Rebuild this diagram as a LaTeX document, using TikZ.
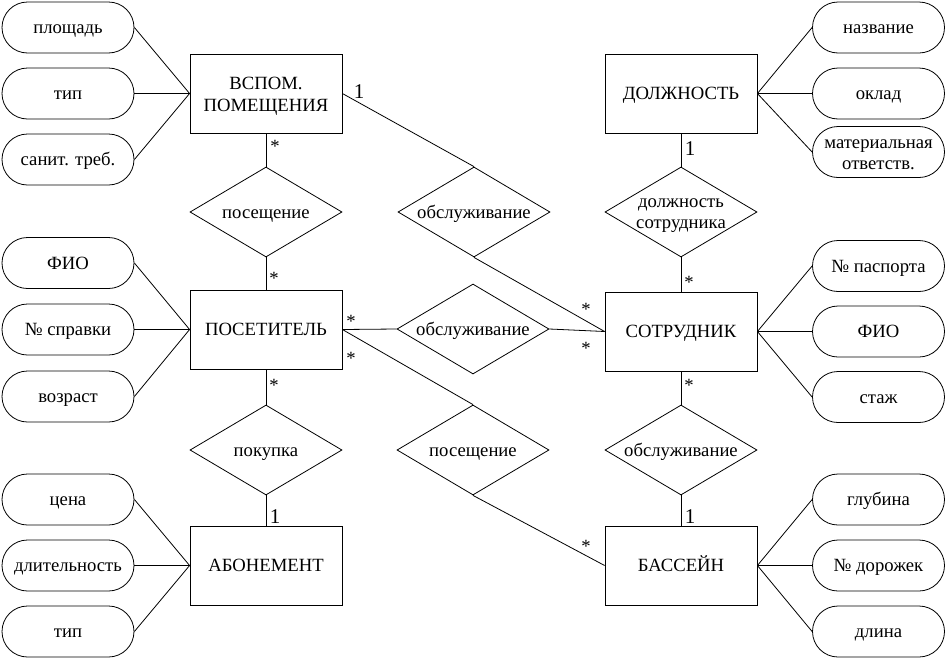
\documentclass[tikz,border=0pt]{standalone}
\usepackage{fontspec}
\setmainfont{Liberation Serif}
\usetikzlibrary{shapes.geometric}
\begin{document}
\begin{tikzpicture}[x=1pt,y=-1pt,
 every node/.style={font=\fontsize{18.67}{21.5}\selectfont, inner sep=0pt},
 one line/.style={text height=16pt, text depth=4pt},
 two lines/.style={align=center, text height=40pt, text depth=4pt},
 ent/.style={draw, line width=0.8pt, rectangle, minimum width=152pt, minimum height=79pt, one line},
 rel/.style={draw, line width=0.8pt, diamond, minimum width=152pt, minimum height=90pt},
 reltext/.style={one line},
 attr/.style={draw, line width=0.8pt, rectangle, rounded corners=25.5pt, minimum width=132pt, minimum height=51pt, one line},
 link/.style={line width=0.8pt},
 many/.style={font=\fontsize{18.67}{21}\selectfont},
 one/.style={font=\fontsize{21}{24}\selectfont}]
\useasboundingbox (0,0) rectangle (948,659);

% entities
\node[ent, two lines] (vsp) at (266,93.5) {ВСПОМ.\\[1pt]ПОМЕЩЕНИЯ};
\node[ent] (dol) at (681,93.5) {ДОЛЖНОСТЬ};
\node[ent] (pos) at (266,329.5) {ПОСЕТИТЕЛЬ};
\node[ent] (sot) at (681,331.5) {СОТРУДНИК};
\node[ent] (abo) at (266,565.5) {АБОНЕМЕНТ};
\node[ent] (bas) at (681,565.5) {БАССЕЙН};

% relationships
\node[rel] (r1) at (266,212) {};
\node[reltext] (r1t) at (r1) {посещение};
\node[rel] (r2) at (474,212) {};
\node[reltext] (r2t) at (r2) {обслуживание};
\node[rel] (r3) at (681,212) {};
\node[two lines, text height=36.6pt] (r3t) at (r3) {должность\\[-0.5pt]сотрудника};
\node[rel] (r4) at (473,329) {};
\node[reltext] (r4t) at (r4) {обслуживание};
\node[rel] (r5) at (266,450) {};
\node[reltext] (r5t) at (r5) {покупка};
\node[rel] (r6) at (473,450) {};
\node[reltext] (r6t) at (r6) {посещение};
\node[rel] (r7) at (681,450) {};
\node[reltext] (r7t) at (r7) {обслуживание};

% attributes left
\node[attr] (a1) at (68,27.5) {площадь};
\node[attr] (a2) at (68,93.5) {тип};
\node[attr] (a3) at (68,159.5) {санит. треб.};
\node[attr] (a4) at (68,263) {ФИО};
\node[attr] (a5) at (68,329.5) {№ справки};
\node[attr] (a6) at (68,396.5) {возраст};
\node[attr] (a7) at (68,499.5) {цена};
\node[attr] (a8) at (68,565.5) {длительность};
\node[attr] (a9) at (68,631.5) {тип};
% attributes right
\node[attr] (b1) at (878.5,27.5) {название};
\node[attr] (b2) at (878.5,93.5) {оклад};
\node[attr, two lines, text height=38.6pt] (b3) at (878.5,152) {материальная\\[-0.5pt]ответств.};
\node[attr] (b4) at (878.5,266) {№ паспорта};
\node[attr] (b5) at (878.5,331.5) {ФИО};
\node[attr] (b6) at (878.5,397) {стаж};
\node[attr] (b7) at (878.5,499.5) {глубина};
\node[attr] (b8) at (878.5,565.5) {№ дорожек};
\node[attr] (b9) at (878.5,631.5) {длина};

% attribute links
\foreach \a in {a1,a2,a3} \draw[link] (\a.east) -- (vsp.west);
\foreach \a in {a4,a5,a6} \draw[link] (\a.east) -- (pos.west);
\foreach \a in {a7,a8,a9} \draw[link] (\a.east) -- (abo.west);
\foreach \a in {b1,b2,b3} \draw[link] (\a.west) -- (dol.east);
\foreach \a in {b4,b5,b6} \draw[link] (\a.west) -- (sot.east);
\foreach \a in {b7,b8,b9} \draw[link] (\a.west) -- (bas.east);

% relationship links
\draw[link] (vsp.south) -- (r1.north);
\draw[link] (r1.south) -- (pos.north);
\draw[link] (vsp.east) -- (r2.north);
\draw[link] (r2.south) -- (sot.west);
\draw[link] (dol.south) -- (r3.north);
\draw[link] (r3.south) -- (sot.north);
\draw[link] (pos.east) -- (r4.west);
\draw[link] (r4.east) -- (sot.west);
\draw[link] (pos.east) -- (r6.north);
\draw[link] (r6.south) -- (bas.west);
\draw[link] (pos.south) -- (r5.north);
\draw[link] (r5.south) -- (abo.north);
\draw[link] (sot.south) -- (r7.north);
\draw[link] (r7.south) -- (bas.north);

% cardinalities
\node[many] (c1) at (275,146) {*};
\node[many] (c2) at (274,278) {*};
\node[many] (c3) at (351,321) {*};
\node[many] (c4) at (351,358) {*};
\node[many] (c5) at (586,309) {*};
\node[many] (c6) at (586,348) {*};
\node[many] (c7) at (586,546) {*};
\node[many] (c8) at (689,282) {*};
\node[many] (c9) at (689,385) {*};
\node[many] (c10) at (274,385) {*};
\node[one] (o1) at (359,92) {1};
\node[one] (o2) at (690,149) {1};
\node[one] (o3) at (690,517) {1};
\node[one] (o4) at (275,517) {1};
\end{tikzpicture}
\end{document}
